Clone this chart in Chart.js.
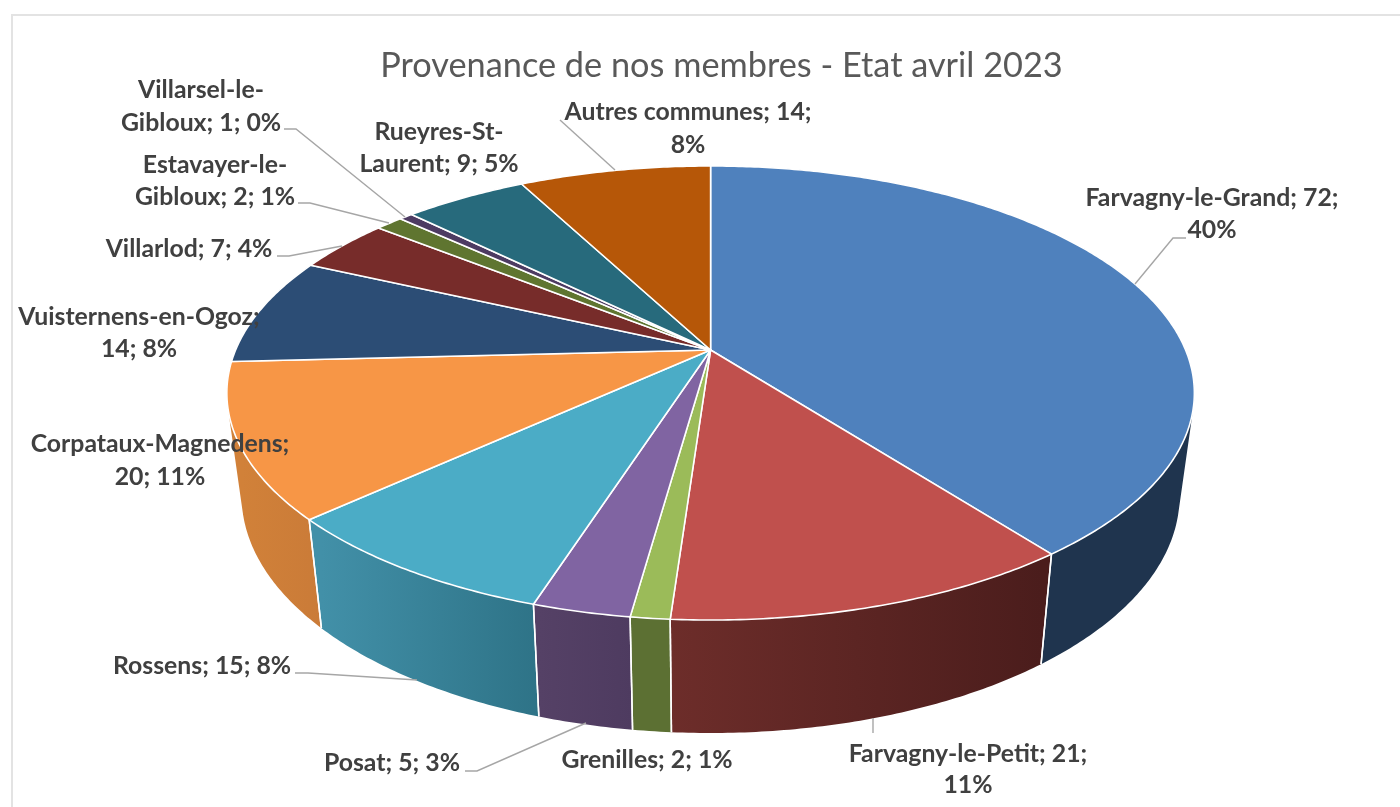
<!DOCTYPE html>
<html><head><meta charset="utf-8">
<style>html,body{margin:0;padding:0;background:#fff;overflow:hidden}canvas{display:block}</style>
<script src="https://cdn.jsdelivr.net/npm/chart.js@4/dist/chart.umd.js"></script>
</head><body><canvas id="c" width="1400" height="807"></canvas>
<script>
const communes = ["Farvagny-le-Grand","Farvagny-le-Petit","Grenilles","Posat","Rossens","Corpataux-Magnedens","Vuisternens-en-Ogoz","Villarlod","Estavayer-le-Gibloux","Villarsel-le-Gibloux","Rueyres-St-Laurent","Autres communes"];
const members = [72,21,2,5,15,20,14,7,2,1,9,14];
const percents = [40,11,1,3,8,11,8,4,1,0,5,8];
const topColors = ["#4F81BD","#C0504D","#9BBB59","#8064A2","#4BACC6","#F79646","#2C4D75","#772C2A","#5F7530","#4D3B62","#276A7C","#B65708"];
const wallLeft  = ["#1F344E","#6D2D2A","#5C7033","#554166","#4290A8","#D18139","#1F344E","#4B1D1C","#3C4A1F","#30253E","#1A4653","#733705"];
const wallRight = ["#1F344E","#4B1D1C","#5C7033","#4E3B60","#2E7387","#CA7B38","#1F344E","#4B1D1C","#3C4A1F","#30253E","#1A4653","#733705"];
const titleText = "Provenance de nos membres - Etat avril 2023";

// Perspective of the tilted disc: top face and bottom face
const PERSP = -0.1894;
const topFace = {cx:710.6, cy:350, k:475, b:218.9};
const botFace = {cx:710.6, cy:451, k:460.5, b:228.6};
function project(face, a){
  const d = 1 + PERSP*Math.sin(a);
  return [face.cx + face.k*Math.cos(a)/d, face.cy + face.b*Math.sin(a)/d];
}
function samples(a0,a1){
  const n = Math.max(2, Math.ceil(Math.abs(a1-a0)/0.01)), out=[];
  for(let i=0;i<=n;i++) out.push(a0+(a1-a0)*i/n);
  return out;
}
// Top face of every slice: the library's arc element, seen through the projection
Chart.ArcElement.prototype.draw = function(ctx){
  const o = this.options;
  ctx.save();
  ctx.beginPath();
  ctx.moveTo(topFace.cx, topFace.cy);
  for(const a of samples(this.startAngle,this.endAngle)){ const p=project(topFace,a); ctx.lineTo(p[0],p[1]); }
  ctx.closePath();
  ctx.fillStyle = o.backgroundColor; ctx.fill();
  ctx.strokeStyle = o.borderColor; ctx.lineWidth = o.borderWidth; ctx.lineJoin='round'; ctx.stroke();
  ctx.restore();
};
const wallsPlugin = {
  id:'walls',
  beforeDraw(chart){
    const ctx=chart.ctx; ctx.save();
    ctx.fillStyle='#fff'; ctx.fillRect(0,0,chart.width,chart.height);
    ctx.strokeStyle='#E3E3E3'; ctx.lineWidth=2;
    ctx.beginPath(); ctx.moveTo(1402,15); ctx.lineTo(12,15); ctx.lineTo(12,809); ctx.stroke();
    ctx.restore();
  },
  beforeDatasetsDraw(chart){
    const ctx=chart.ctx, arcs=chart.getDatasetMeta(0).data.map((el,i)=>({el,i}));
    arcs.sort((p,q)=>Math.sin((p.el.startAngle+p.el.endAngle)/2)-Math.sin((q.el.startAngle+q.el.endAngle)/2));
    ctx.save();
    for(const {el,i} of arcs){
      const as=samples(el.startAngle,el.endAngle);
      const front=as.filter(a=>Math.sin(a)>-0.2).map(a=>project(botFace,a)[0]);
      const xs=front.length?front:[0,1];
      const g=ctx.createLinearGradient(Math.min(...xs),0,Math.max(...xs)+0.01,0);
      g.addColorStop(0,wallLeft[i]); g.addColorStop(1,wallRight[i]);
      ctx.fillStyle=g;
      ctx.beginPath();
      for(let j=0;j<as.length-1;j++){
        let pts=[project(topFace,as[j]),project(topFace,as[j+1]),project(botFace,as[j+1]),project(botFace,as[j])];
        let area=0;
        pts.forEach((p,n)=>{const q=pts[(n+1)%4]; area+=p[0]*q[1]-q[0]*p[1];});
        if(area<0) pts=pts.reverse();
        ctx.moveTo(pts[0][0],pts[0][1]);
        for(let n=1;n<4;n++) ctx.lineTo(pts[n][0],pts[n][1]);
        ctx.closePath();
      }
      ctx.fill();
    }
    ctx.strokeStyle='#fff'; ctx.lineWidth=1.5;
    for(const {el} of arcs){
      for(const a of [el.startAngle,el.endAngle]){
        if(Math.sin(a)<0.2) continue;
        const p=project(topFace,a),s=project(botFace,a);
        ctx.beginPath(); ctx.moveTo(p[0],p[1]); ctx.lineTo(s[0],s[1]); ctx.stroke();
      }
    }
    ctx.restore();
  },
  afterDatasetsDraw(chart){
    const ctx=chart.ctx, o=chart.options.plugins.walls;
    ctx.save();
    ctx.strokeStyle='#A6A6A6'; ctx.lineWidth=1.4;
    for(const pts of o.leaders){
      ctx.beginPath(); pts.forEach((p,n)=>n?ctx.lineTo(p[0],p[1]):ctx.moveTo(p[0],p[1])); ctx.stroke();
    }
    ctx.fillStyle='#404040'; ctx.font='bold 24.8px Lato'; ctx.textAlign='center'; ctx.textBaseline='middle';
    communes.forEach((name,i)=>{
      const text=name+"; "+members[i]+"; "+percents[i]+"%", l=o.labels[i];
      const lines=l.cut?[text.slice(0,l.cut),text.slice(l.cut)]:[text];
      lines.forEach((t,n)=>ctx.fillText(t.trim(),l.x,l.y+n*(l.gap||0)));
    });
    ctx.restore();
  }
};
new Chart(document.getElementById('c'),{
  type:'pie',
  data:{labels:communes,datasets:[{data:members,backgroundColor:topColors,borderColor:'#fff',borderWidth:1.6}]},
  plugins:[wallsPlugin],
  options:{
    responsive:false,animation:false,
    layout:{padding:{left:43,top:0}},
    plugins:{
      legend:{display:false},tooltip:{enabled:false},
      title:{display:true,text:titleText,color:'#595959',font:{family:'Lato',size:34.3,weight:'normal'},padding:{top:45,bottom:10}},
      walls:{
        labels:[
          {x:1212,y:198,gap:32,cut:22},{x:968,y:754,gap:31,cut:22},{x:647,y:760},{x:392,y:763},{x:202,y:666},
          {x:160,y:444,gap:33,cut:20},{x:139,y:317,gap:32,cut:20},{x:189,y:249},
          {x:215,y:165,gap:32,cut:13},{x:201,y:90,gap:33,cut:13},{x:439,y:132,gap:32,cut:11},{x:688,y:112,gap:33,cut:20}
        ],
        leaders:[
          [[1186,238],[1173,238],[1135,284]],
          [[284,129],[296,129],[405,217]],
          [[298,203],[310,203],[389,223]],
          [[277,256],[289,256],[342,246]],
          [[295,673],[308,673],[417,680]],
          [[465,771],[477,771],[586,723]],
          [[873,718],[873,733]],
          [[560,120],[615,170]]
        ]
      }
    }
  }
});
</script></body></html>
